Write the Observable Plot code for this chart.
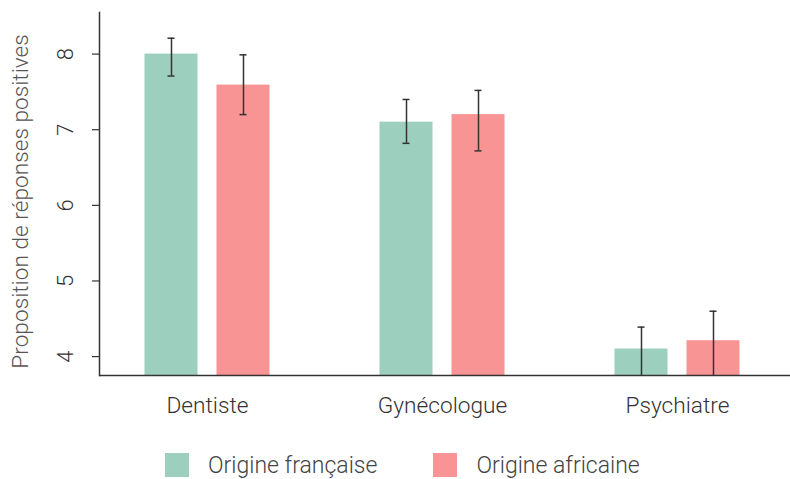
<!DOCTYPE html>
<html><head><meta charset="utf-8">
<script src="https://cdn.jsdelivr.net/npm/d3@7"></script>
<script src="https://cdn.jsdelivr.net/npm/@observablehq/plot@0.6"></script>
<style>
body{margin:0;background:#fff;font-family:Roboto,sans-serif;position:relative;width:790px;height:479px;overflow:hidden}
#legend{position:absolute;left:165px;top:451px;height:28px;display:flex;align-items:center;font-family:Roboto,sans-serif;font-weight:300;font-size:23px;color:#444}
.sw{width:24px;height:24px;margin-right:19px;display:inline-block}
.item{display:flex;align-items:center;margin-right:56px}
</style></head><body>
<div id="chart"></div>
<div id="legend"></div>
<script>
const categories = ["Dentiste", "Gynécologue", "Psychiatre"];
const series = ["Origine française", "Origine africaine"];
const francaise = [8.0, 7.10, 4.10];
const africaine = [7.59, 7.20, 4.21];
const francaiseLow = [7.71, 6.82, 3.70];
const francaiseHigh = [8.21, 7.40, 4.39];
const africaineLow = [7.20, 6.72, 3.70];
const africaineHigh = [7.99, 7.52, 4.60];
const yTicks = [4, 5, 6, 7, 8];
const colors = ["#9ccfbd", "#f99494"];
const yMin = 3.75, yMax = 8.55;
const yTitle = "Proposition de réponses positives";

const fr = categories.map((c, i) => ({cat: c, value: francaise[i], low: francaiseLow[i], high: francaiseHigh[i]}));
const af = categories.map((c, i) => ({cat: c, value: africaine[i], low: africaineLow[i], high: africaineHigh[i]}));

const W = 790, H = 430;
const errStroke = "#333";
const chart = Plot.plot({
  width: W, height: H,
  marginLeft: 99, marginRight: 0, marginTop: 12, marginBottom: H - 375,
  style: {fontFamily: "Roboto, sans-serif", fontSize: "22px", fontWeight: 300, color: "#333", background: "#fff"},
  x: {domain: categories, range: [99, 785], paddingInner: 0.2, paddingOuter: 0.0574, axis: null},
  y: {domain: [yMin, yMax], axis: null},
  marks: [
    Plot.barY(fr, {x: "cat", y1: yMin, y2: "value", fill: colors[0], insetLeft: 31.5, insetRight: 103.5}),
    Plot.barY(af, {x: "cat", y1: yMin, y2: "value", fill: colors[1], insetLeft: 103.5, insetRight: 31.5}),
    Plot.ruleX(fr, {x: "cat", y1: "low", y2: "high", dx: -36, stroke: errStroke, strokeWidth: 1.5, clip: true}),
    Plot.ruleX(af, {x: "cat", y1: "low", y2: "high", dx: 36, stroke: errStroke, strokeWidth: 1.5, clip: true}),
    Plot.tickY(fr, {x: "cat", y: "high", insetLeft: 54.5, insetRight: 126.5, stroke: errStroke, strokeWidth: 1.5, clip: true}),
    Plot.tickY(fr, {x: "cat", y: "low", insetLeft: 54.5, insetRight: 126.5, stroke: errStroke, strokeWidth: 1.5, clip: true}),
    Plot.tickY(af, {x: "cat", y: "high", insetLeft: 126.5, insetRight: 54.5, stroke: errStroke, strokeWidth: 1.5, clip: true}),
    Plot.tickY(af, {x: "cat", y: "low", insetLeft: 126.5, insetRight: 54.5, stroke: errStroke, strokeWidth: 1.5, clip: true}),
    Plot.ruleY([yMin], {stroke: "#333", strokeWidth: 1.5}),
    Plot.frame({anchor: "left", stroke: "#333", strokeWidth: 1.5}),
    Plot.axisY({ticks: yTicks, tickSize: 7, tickFormat: () => "", stroke: "#333", strokeWidth: 1.2}),
    Plot.text(yTicks, {y: d => d, text: d => String(d), frameAnchor: "left", dx: -34, rotate: -90, textAnchor: "middle", lineAnchor: "middle", fill: "#333", fontSize: 22}),
    Plot.text([yTitle], {text: d => d, frameAnchor: "left", dx: -79, dy: 7.5, rotate: -90, textAnchor: "middle", lineAnchor: "middle", fill: "#555", fontSize: 22.7}),
    Plot.text(categories, {x: d => d, text: d => d, frameAnchor: "bottom", dy: 21, lineAnchor: "top", fill: "#333", fontSize: 22.7})
  ]
});
document.getElementById("chart").appendChild(chart);

const legend = document.getElementById("legend");
series.forEach((s, i) => {
  const item = document.createElement("div");
  item.className = "item";
  const sw = document.createElement("span");
  sw.className = "sw";
  sw.style.background = colors[i];
  const t = document.createElement("span");
  t.textContent = s;
  item.appendChild(sw); item.appendChild(t);
  legend.appendChild(item);
});
</script>
</body></html>
